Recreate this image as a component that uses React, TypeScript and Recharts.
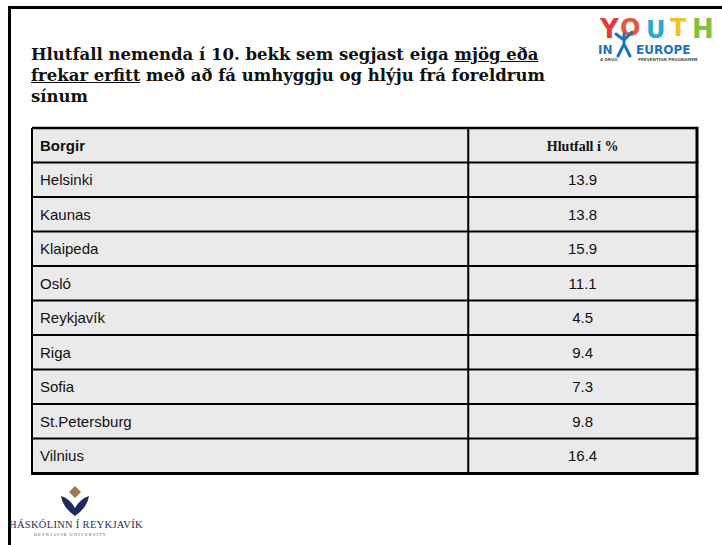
import React from 'react'
import { BarChart, Bar, XAxis, YAxis } from 'recharts'

const headerLabels = ['Borgir', 'Hlutfall í %']
const cities = ['Helsinki', 'Kaunas', 'Klaipeda', 'Osló', 'Reykjavík', 'Riga', 'Sofia', 'St.Petersburg', 'Vilnius']
const shares = [13.9, 13.8, 15.9, 11.1, 4.5, 9.4, 7.3, 9.8, 16.4]

const rows = [
  { city: headerLabels[0], label: headerLabels[1], header: true },
  ...cities.map((city, i) => ({ city, value: shares[i], label: shares[i].toFixed(1), header: false })),
]

const SPAN = 20 // every row bar spans the whole x domain, so it becomes the table row
const CELL_FILL = '#eaeaea'
const LINE = '#000'

const renderRow = (props: any) => {
  const { x, y, width, height, payload, index } = props
  const row = payload ?? rows[index]
  const i = rows.indexOf(row)
  const divX = x + width * 0.656
  const valueX = (divX + x + width) / 2
  const mid = y + height / 2
  const first = i === 0
  const last = i === rows.length - 1
  return (
    <g>
      <rect x={x} y={y} width={width} height={height} fill={CELL_FILL} />
      <line x1={x} x2={x + width} y1={y} y2={y} stroke={LINE} strokeWidth={first ? 2.5 : 2} />
      {last && <line x1={x - 1} x2={x + width + 1.5} y1={y + height} y2={y + height} stroke={LINE} strokeWidth={3} />}
      <line x1={x} x2={x} y1={y} y2={y + height} stroke={LINE} strokeWidth={2} />
      <line x1={x + width} x2={x + width} y1={y - 1.2} y2={y + height} stroke={LINE} strokeWidth={3} />
      <line x1={divX} x2={divX} y1={y} y2={y + height} stroke={LINE} strokeWidth={2} />
      <text
        x={x + 8}
        y={mid + 5}
        fontFamily="'Liberation Sans', Arial, sans-serif"
        fontSize={15}
        fontWeight={row.header ? 'bold' : 'normal'}
        fill="#111"
      >
        {row.city}
      </text>
      <text
        x={valueX}
        y={mid + 5}
        textAnchor="middle"
        fontFamily={row.header ? "'Liberation Serif', 'Times New Roman', serif" : "'Liberation Sans', Arial, sans-serif"}
        fontSize={row.header ? 14 : 15}
        fontWeight={row.header ? 'bold' : 'normal'}
        fill="#111"
      >
        {row.label}
      </text>
    </g>
  )
}

const YouthLogo = () => (
  <svg width={132} height={52} style={{ position: 'absolute', left: 592, top: 12 }}>
    <g fontFamily="'DejaVu Sans', sans-serif" fontWeight="bold">
      <text x={8} y={26} fontSize={26} fill="#e53a3a">Y</text>
      <text x={28} y={24} fontSize={24} fill="#e8553a">O</text>
      <text x={54} y={26} fontSize={24} fill="#29a6d8">U</text>
      <text x={78} y={24} fontSize={24} fill="#f2c51c">T</text>
      <text x={100} y={26} fontSize={26} fill="#7cc242">H</text>
      <text x={6} y={42} fontSize={12} fill="#1e73be">IN</text>
      <text x={44} y={42} fontSize={12} fill="#1e73be">EUROPE</text>
      <text x={8} y={49} fontSize={4} fill="#555">A DRUG</text>
      <text x={46} y={49} fontSize={4} fill="#555">PREVENTION PROGRAMME</text>
    </g>
    <path d="M26 44 L32 32 L38 44 M32 32 L32 22 M24 22 L32 28 L40 20" stroke="#1e73be" strokeWidth={3} fill="none" strokeLinecap="round" />
  </svg>
)

const HrLogo = () => (
  <svg width={150} height={52} style={{ position: 'absolute', left: 6, top: 486 }}>
    <path d="M63 6 L69 0 L75 6 L69 12 Z" fill="#9a7b4f" />
    <path d="M55 10 Q63 12 69 22 Q75 12 83 10 Q81 22 69 30 Q57 22 55 10 Z" fill="#1d2a5a" />
    <text x={3} y={42} fontFamily="'Liberation Serif', serif" fontSize={10.5} fill="#1d2a5a" letterSpacing={0.3}>HÁSKÓLINN Í REYKJAVÍK</text>
    <text x={28} y={50} fontFamily="'Liberation Serif', serif" fontSize={4.5} fill="#666" letterSpacing={1}>REYKJAVIK UNIVERSITY</text>
  </svg>
)

export default function App() {
  return (
    <div style={{ position: 'absolute', left: 0, top: 0, width: 722, height: 545, background: '#fff', overflow: 'hidden' }}>
      <div style={{ position: 'absolute', left: 8, top: 6, width: 800, height: 600, borderTop: '3px solid #000', borderLeft: '3px solid #000' }} />
      <div
        style={{
          position: 'absolute',
          left: 31,
          top: 44,
          width: 580,
          fontFamily: "'DejaVu Serif', serif",
          fontWeight: 'bold',
          fontSize: 16.5,
          lineHeight: '21px',
          color: '#111',
          whiteSpace: 'nowrap',
        }}
      >
        Hlutfall nemenda í 10. bekk sem segjast eiga <u>mjög eða</u>
        <br />
        <u>frekar erfitt</u> með að fá umhyggju og hlýju frá foreldrum
        <br />
        sínum
      </div>
      <YouthLogo />
      <HrLogo />
      <div style={{ position: 'absolute', left: 0, top: 0 }}>
        <BarChart
          width={722}
          height={545}
          data={rows}
          layout="vertical"
          margin={{ top: 128, right: 25, bottom: 72, left: 32 }}
          barCategoryGap={0}
        >
          <XAxis type="number" domain={[0, SPAN]} hide />
          <YAxis type="category" dataKey="city" hide />
          <Bar dataKey={() => SPAN} shape={renderRow} isAnimationActive={false} />
        </BarChart>
      </div>
    </div>
  )
}
